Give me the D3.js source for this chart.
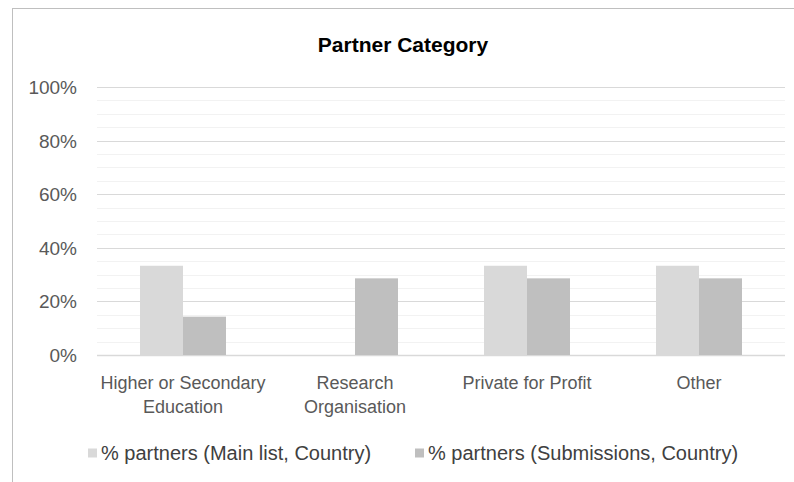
<!DOCTYPE html>
<html>
<head>
<meta charset="utf-8">
<script src="https://cdn.jsdelivr.net/npm/d3@7"></script>
<style>
  body { margin: 0; background: #fff; }
  text { font-family: 'Liberation Sans', Arial, sans-serif; fill: #595959; }
</style>
</head>
<body>
<div id="chart"></div>
<script>
const chartWidth = 794
const chartHeight = 482

// data
const categories = [['Higher or Secondary', 'Education'], ['Research', 'Organisation'], ['Private for Profit'], ['Other']]
const seriesNames = ['% partners (Main list, Country)', '% partners (Submissions, Country)']
const mainList = [33.3, 0, 33.3, 33.3]
const submissions = [14.3, 28.6, 28.6, 28.6]
const majorTicks = [0, 20, 40, 60, 80, 100]
const minorTicks = d3.range(0, 101, 5)
const colors = ['#d9d9d9', '#bfbfbf']

const margin = { left: 97, right: 9, top: 87, bottom: 127 }

const svg = d3.select('#chart')
  .append('svg')
  .attr('width', chartWidth)
  .attr('height', chartHeight)

// chart frame
svg.append('rect')
  .attr('x', 12.5)
  .attr('y', 8.5)
  .attr('width', chartWidth)
  .attr('height', chartHeight)
  .attr('fill', 'none')
  .attr('stroke', '#bfbfbf')

svg.append('text')
  .attr('x', 403)
  .attr('y', 52)
  .attr('text-anchor', 'middle')
  .style('font-size', '21px')
  .style('font-weight', 'bold')
  .style('fill', '#000')
  .text('Partner Category')

const x = d3.scaleBand()
  .domain(d3.range(categories.length))
  .range([margin.left, chartWidth - margin.right])

const x1 = d3.scaleBand()
  .domain([0, 1])
  .range([x.bandwidth() / 4, x.bandwidth() * 3 / 4])

const y = d3.scaleLinear()
  .domain([0, 100])
  .range([chartHeight - margin.bottom, margin.top])

// minor then major gridlines
svg.append('g')
  .selectAll('line')
  .data(minorTicks.filter(d => d % 20 !== 0))
  .join('line')
  .attr('x1', margin.left)
  .attr('x2', chartWidth - margin.right)
  .attr('y1', d => Math.round(y(d)) + 0.5)
  .attr('y2', d => Math.round(y(d)) + 0.5)
  .attr('stroke', '#f2f2f2')

svg.append('g')
  .selectAll('line')
  .data(majorTicks)
  .join('line')
  .attr('x1', margin.left)
  .attr('x2', chartWidth - margin.right)
  .attr('y1', d => Math.round(y(d)) + 0.5)
  .attr('y2', d => Math.round(y(d)) + 0.5)
  .attr('stroke', '#d9d9d9')
  .attr('stroke-width', d => d === 0 ? 1.5 : 1)

// y labels
svg.append('g')
  .selectAll('text')
  .data(majorTicks)
  .join('text')
  .attr('x', 77)
  .attr('y', d => y(d) + 7)
  .attr('text-anchor', 'end')
  .style('font-size', '19px')
  .text(d => d + '%')

// bars
const series = [mainList, submissions]
series.forEach((vals, si) => {
  svg.append('g')
    .selectAll('rect')
    .data(vals)
    .join('rect')
    .attr('x', (d, i) => x(i) + x1(si))
    .attr('y', d => y(d))
    .attr('width', x1.bandwidth())
    .attr('height', d => y(0) - y(d))
    .attr('fill', colors[si])
})

// category labels
const catLabels = svg.append('g')
  .selectAll('text')
  .data(categories)
  .join('text')
  .attr('x', (d, i) => x(i) + x.bandwidth() / 2)
  .attr('y', 389)
  .attr('text-anchor', 'middle')
  .style('font-size', '18px')

catLabels.selectAll('tspan')
  .data(d => d)
  .join('tspan')
  .attr('x', function() { return d3.select(this.parentNode).attr('x') })
  .attr('dy', (d, i) => i === 0 ? 0 : 24)
  .text(d => d)

// legend
const legendX = [88, 415]
const legend = svg.append('g')
  .selectAll('g')
  .data(seriesNames)
  .join('g')
  .attr('transform', (d, i) => `translate(${legendX[i]}, 453)`)

legend.append('rect')
  .attr('x', 0)
  .attr('y', -4.5)
  .attr('width', 9)
  .attr('height', 9)
  .attr('fill', (d, i) => colors[i])

legend.append('text')
  .attr('x', 13)
  .attr('y', 7)
  .style('font-size', '20px')
  .style('fill', '#404040')
  .text(d => d)
</script>
</body>
</html>
